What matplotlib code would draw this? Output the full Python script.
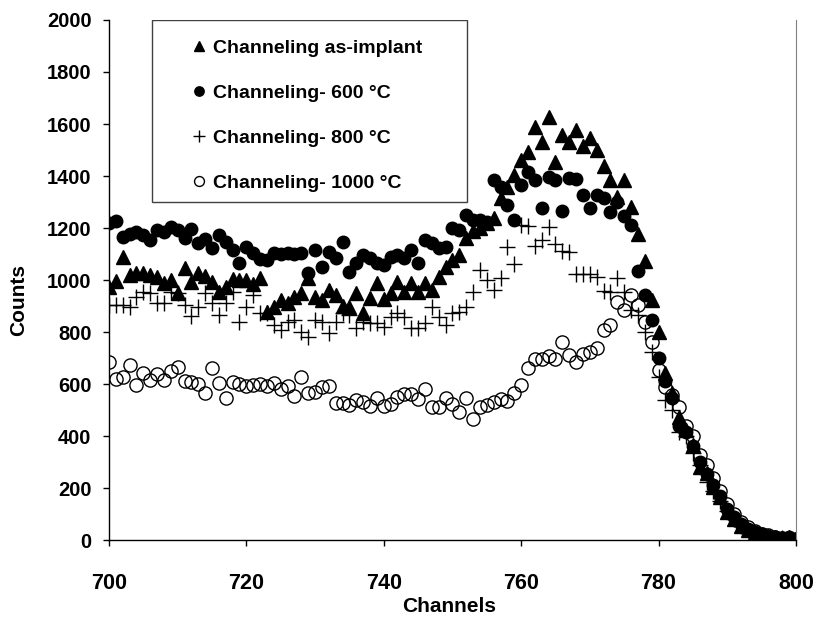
import numpy as np
import matplotlib
matplotlib.use("Agg")
import matplotlib.pyplot as plt
from matplotlib.patches import Rectangle

plt.rcParams['font.family'] = ['Liberation Sans', 'DejaVu Sans']

channels = list(range(700, 801))

as_implant = [
    973, 996, 1088, 1019, 1028, 1027, 1019, 1013, 988, 1000,
    950, 1046, 992, 1027, 1015, 992, 954, 973, 1004, 1000,
    1000, 985, 1008, 878, 896, 923, 911, 935, 950, 1008,
    935, 923, 962, 942, 900, 897, 950, 873, 931, 988,
    927, 950, 993, 955, 988, 955, 988, 960, 1013, 1051,
    1077, 1096, 1161, 1190, 1200, 1220, 1237, 1315, 1359, 1404,
    1461, 1494, 1590, 1532, 1628, 1455, 1558, 1532, 1577, 1515,
    1545, 1500, 1438, 1385, 1320, 1385, 1282, 1177, 1074, 923,
    801, 641, 564, 474, 423, 365, 282, 257, 205, 167,
    109, 80, 55, 40, 28, 20, 14, 10, 8, 12, 5]

c600 = [
    1220, 1228, 1164, 1177, 1186, 1173, 1154, 1192, 1186, 1203,
    1192, 1160, 1195, 1141, 1158, 1122, 1173, 1147, 1115, 1064,
    1126, 1103, 1081, 1077, 1105, 1099, 1103, 1099, 1105, 1026,
    1115, 1051, 1109, 1083, 1147, 1030, 1064, 1096, 1083, 1064,
    1058, 1090, 1096, 1083, 1115, 1064, 1154, 1141, 1122, 1128,
    1199, 1192, 1250, 1231, 1231, 1224, 1385, 1359, 1288, 1231,
    1365, 1417, 1385, 1276, 1397, 1385, 1266, 1391, 1387, 1327,
    1276, 1327, 1314, 1263, 1301, 1246, 1211, 1036, 942, 846,
    700, 610, 545, 440, 415, 360, 300, 255, 210, 170,
    120, 90, 60, 42, 30, 22, 15, 10, 8, 12, 5]

c800 = [
    904, 904, 904, 897, 936, 955, 949, 910, 910, 955,
    949, 904, 861, 897, 949, 910, 865, 910, 955, 840,
    897, 942, 872, 872, 827, 808, 840, 846, 801, 782,
    846, 840, 795, 840, 872, 865, 814, 840, 833, 833,
    820, 859, 872, 859, 814, 814, 833, 897, 859, 827,
    872, 878, 897, 955, 1040, 1000, 960, 1006, 1128, 1060,
    1210, 1208, 1131, 1154, 1205, 1138, 1113, 1109, 1025, 1023,
    1023, 1013, 959, 955, 1006, 952, 885, 865, 801, 724,
    628, 538, 500, 417, 400, 333, 290, 224, 190, 150,
    110, 80, 55, 40, 28, 18, 12, 8, 6, 5, 4]

c1000 = [
    686, 619, 628, 673, 596, 641, 615, 638, 615, 651,
    664, 613, 606, 600, 564, 660, 603, 545, 606, 599,
    592, 596, 599, 592, 605, 580, 592, 554, 626, 567,
    570, 590, 594, 528, 526, 519, 538, 532, 515, 545,
    515, 523, 551, 562, 562, 541, 580, 513, 513, 545,
    523, 493, 545, 464, 510, 519, 532, 541, 536, 564,
    596, 660, 696, 696, 708, 695, 763, 712, 685, 715,
    725, 740, 808, 827, 917, 885, 942, 904, 840, 763,
    654, 590, 558, 510, 440, 400, 327, 290, 240, 190,
    140, 100, 70, 50, 35, 25, 18, 12, 8, 6, 5]

labels = ['Channeling as-implant', 'Channeling- 600 \u00b0C',
          'Channeling- 800 \u00b0C', 'Channeling- 1000 \u00b0C']

fig = plt.figure(figsize=(8.13, 6.21), dpi=100)
ax = fig.add_axes([0.134, 0.1304, 0.845, 0.8374])

ax.plot(channels, as_implant, linestyle='none', marker='^', markersize=10,
        color='black', label=labels[0])
ax.plot(channels, c600, linestyle='none', marker='o', markersize=9,
        color='black', label=labels[1])
ax.plot(channels, c800, linestyle='none', marker='+', markersize=11,
        markeredgewidth=1.0, color='black', label=labels[2])
ax.plot(channels, c1000, linestyle='none', marker='o', markersize=9.5,
        markerfacecolor='none', markeredgecolor='black', markeredgewidth=1.0,
        label=labels[3])

ax.set_xlim(700, 800)
ax.set_ylim(0, 2000)
ax.set_xticks(np.arange(700, 801, 20))
ax.set_yticks(np.arange(0, 2001, 200))
ax.tick_params(direction='out', length=4.5, width=1)
ax.tick_params(axis='y', labelsize=14.5, pad=8)
ax.tick_params(axis='x', labelsize=15.5, pad=19)
for lbl in ax.get_xticklabels() + ax.get_yticklabels():
    lbl.set_fontweight('bold')

ax.spines['top'].set_visible(False)
ax.spines['right'].set_color('#808080')
for s in ['left', 'bottom']:
    ax.spines[s].set_color('black')
    ax.spines[s].set_linewidth(1)

ax.set_xlabel('Channels', fontsize=15, fontweight='bold')
ax.set_ylabel('Counts', fontsize=15, fontweight='bold')
ax.xaxis.set_label_coords(0.495, -0.110)
ax.yaxis.set_label_coords(-0.118, 0.4615)

# legend frame
frame = Rectangle((0.0626, 0.65), 0.4585, 0.35, transform=ax.transAxes,
                  facecolor='white', edgecolor='#404040', linewidth=1, zorder=4)
ax.add_patch(frame)
leg = ax.legend(loc='upper left', bbox_to_anchor=(0.095, 1.0), frameon=False,
                prop={'weight': 'bold', 'size': 14},
                handlelength=0.6, handletextpad=0.4, labelspacing=1.40,
                borderpad=0.5, markerscale=0.75)
leg.set_zorder(5)

fig.savefig('out.png', dpi=100)
